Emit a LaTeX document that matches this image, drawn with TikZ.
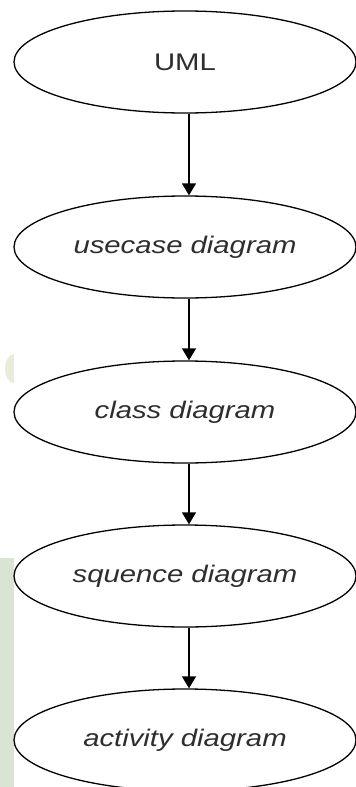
\documentclass[tikz,border=0pt]{standalone}
\usepackage{fontspec}
\usepackage{graphicx}
\setmainfont{Liberation Sans}
\usetikzlibrary{shapes.geometric,arrows.meta}
\definecolor{txtgray}{HTML}{2E2E2E}
\definecolor{bgreen}{HTML}{D9E4D5}
\definecolor{bbeige}{HTML}{E9ECDA}
\newcommand\wlbl[1]{\scalebox{1.22}[1]{#1}}
\tikzset{
  umlell/.style={ellipse, draw=black, line width=1.3pt, fill=white,
    minimum width=342pt, minimum height=102pt, inner sep=0pt,
    text=txtgray, font=\fontsize{24}{28}\selectfont},
  flow/.style={draw=black, line width=1.3pt, -{Triangle[width=14pt,length=12pt]}}
}
\begin{document}
\begin{tikzpicture}[x=1pt,y=-1pt]
  \fill[white] (0,0) rectangle (356,787);
  \useasboundingbox (0,0) rectangle (356,787);
  \fill[bgreen] (0,558) rectangle (14,787);
  \fill[bbeige] (14,383) arc[start angle=90, end angle=270, x radius=9, y radius=14.5] -- cycle;
  \node[umlell] (uml) at (185,62) {\wlbl{UML}};
  \node[umlell] (usecase) at (185,247) {\raisebox{-3pt}{\wlbl{\itshape usecase diagram}}};
  \node[umlell] (class) at (185,412) {\raisebox{-3pt}{\wlbl{\itshape class diagram}}};
  \node[umlell] (seq) at (185,576) {\raisebox{-3pt}{\wlbl{\itshape squence diagram}}};
  \node[umlell] (act) at (185,740) {\raisebox{-3pt}{\wlbl{\itshape activity diagram}}};
  \draw[flow] ([xshift=4pt]uml.south) -- ([xshift=4pt]usecase.north);
  \draw[flow] ([xshift=4pt]usecase.south) -- ([xshift=4pt]class.north);
  \draw[flow] ([xshift=4pt]class.south) -- ([xshift=4pt]seq.north);
  \draw[flow] ([xshift=4pt]seq.south) -- ([xshift=4pt]act.north);
\end{tikzpicture}
\end{document}
